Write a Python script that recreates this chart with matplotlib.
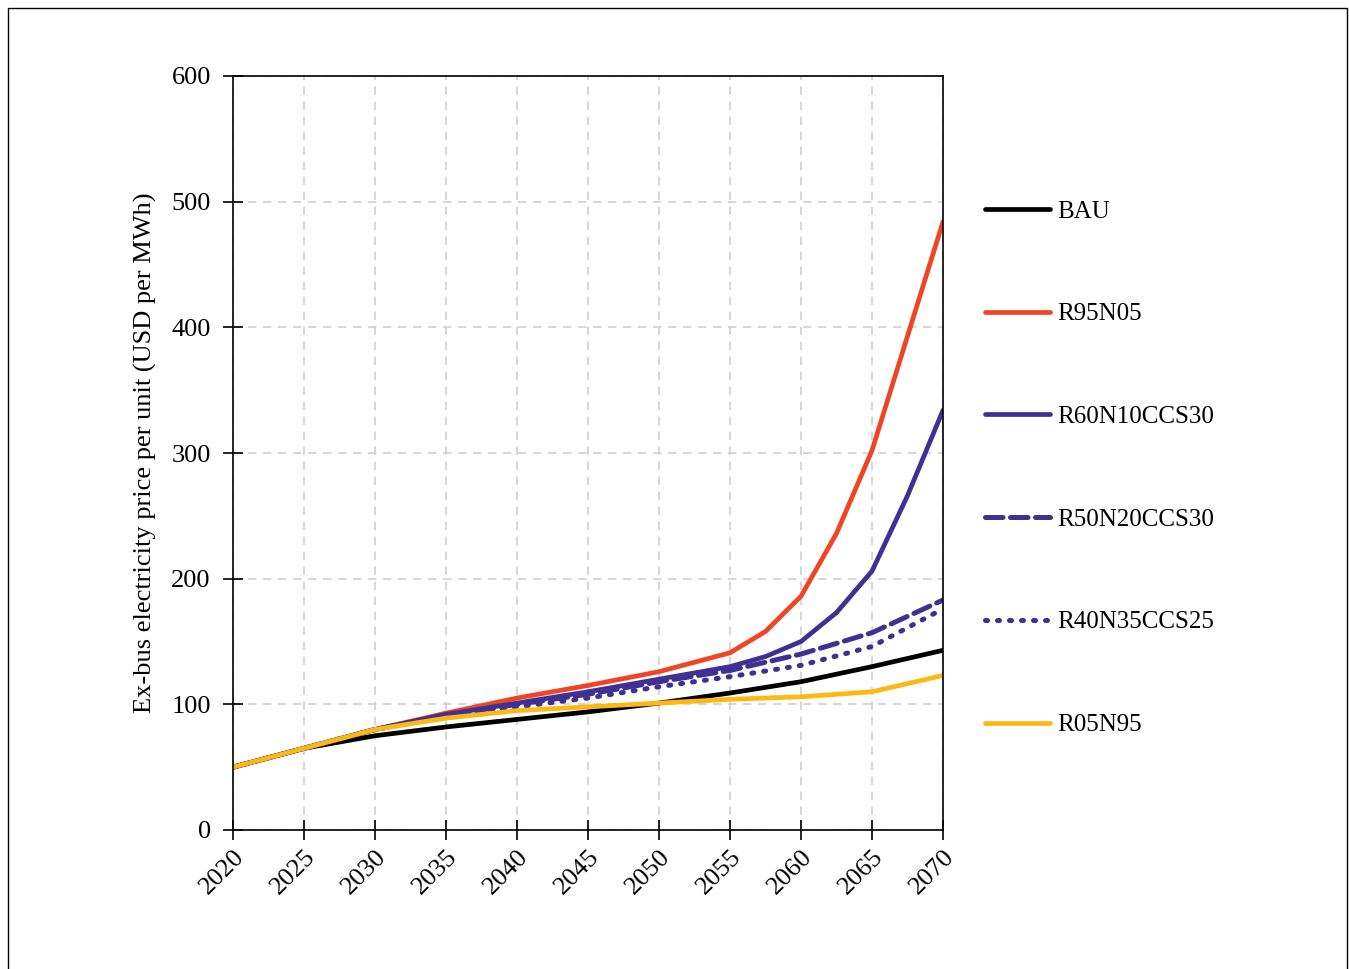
import matplotlib
matplotlib.use("Agg")
import matplotlib.pyplot as plt
from matplotlib.patches import Rectangle

plt.rcParams["font.family"] = ["Liberation Serif", "DejaVu Serif"]

years = [2020, 2025, 2030, 2035, 2040, 2045, 2050, 2055, 2060, 2065, 2070]
# the two steep scenarios were read at a finer step near the end
years_fine = [2020, 2025, 2030, 2035, 2040, 2045, 2050, 2055, 2057.5, 2060, 2062.5, 2065, 2067.5, 2070]

bau = [50, 65, 75, 82, 88, 94, 101, 109, 118, 130, 143]
r95n05 = [50, 65, 80, 93, 105, 115, 126, 141, 158, 186, 236, 302, 393, 484]
r60n10ccs30 = [50, 65, 80, 92, 101, 110, 120, 130, 138, 150, 173, 206, 266, 334]
r50n20ccs30 = [50, 65, 80, 91, 100, 108, 118, 127, 140, 157, 183]
r40n35ccs25 = [50, 65, 80, 90, 98, 105, 114, 122, 131, 146, 176]
r05n95 = [50, 65, 80, 89, 95, 98, 101, 104, 106, 110, 123]

names = ["BAU", "R95N05", "R60N10CCS30", "R50N20CCS30", "R40N35CCS25", "R05N95"]
colors = ["#000000", "#F04524", "#3E3193", "#3E3193", "#3E3193", "#FDB913"]
styles = ["-", "-", "-", (0, (3.5, 1.5)), (0, (0.4, 2.0)), "-"]
xs = [years, years_fine, years_fine, years, years, years]
series = [bau, r95n05, r60n10ccs30, r50n20ccs30, r40n35ccs25, r05n95]

fig = plt.figure(figsize=(13.49, 9.69), dpi=100)
fig.patches.append(Rectangle((8 / 1349, -0.01), 1339 / 1349, (969 - 8) / 969 + 0.01,
                             transform=fig.transFigure, fill=False, edgecolor="black", linewidth=1))

ax = fig.add_axes([233 / 1349, 139 / 969, 710 / 1349, 754 / 969])

for x, vals, name, c, ls in zip(xs, series, names, colors, styles):
    lw = 3.4 if ls == "-" else 3.6
    ax.plot(x, vals, color=c, linestyle=ls, linewidth=lw, label=name,
            solid_capstyle="round", dash_capstyle="round", solid_joinstyle="round")

ax.set_xlim(2020, 2070)
ax.set_ylim(0, 600)
ax.set_xticks(range(2020, 2071, 5))
ax.set_yticks(range(0, 601, 100))
ax.grid(True, color="#d0d0d0", linestyle=(0, (5, 4)), linewidth=1.2)
ax.set_axisbelow(True)
ax.tick_params(axis="both", direction="inout", length=14, width=1.2, labelsize=19)
ax.tick_params(axis="y", pad=9)
ax.tick_params(axis="x", pad=4)
plt.setp(ax.get_xticklabels(), rotation=45, ha="right", va="top", rotation_mode="anchor")
for s in ax.spines.values():
    s.set_linewidth(1.2)
ax.set_ylabel("Ex-bus electricity price per unit (USD per MWh)", fontsize=19, labelpad=10)

leg = ax.legend(loc="upper left", frameon=False, fontsize=18, handlelength=2.6, handletextpad=0.3,
                labelspacing=3.21, borderaxespad=0)
leg.set_bbox_to_anchor((975 / 1349, (969 - 190) / 969), transform=fig.transFigure)

fig.savefig("out.png", dpi=100)
